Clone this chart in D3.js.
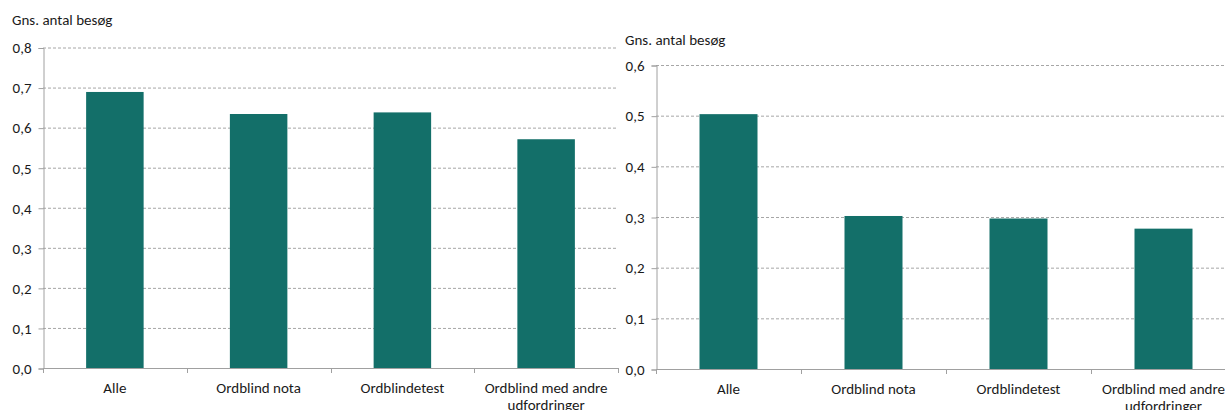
<!DOCTYPE html>
<html><head><meta charset="utf-8">
<script src="https://cdn.jsdelivr.net/npm/d3@7"></script>
<style>
body{margin:0;background:#fff;}
svg{display:block;}
text{font-family:Carlito,"Liberation Sans","Open Sans",sans-serif;fill:#1a1a1a;}
</style></head>
<body><svg id="c" width="1225" height="410"></svg>
<script>
const categories = ["Alle", "Ordblind nota", "Ordblindetest", "Ordblind med andre udfordringer"];
const categoryLines = [["Alle"], ["Ordblind nota"], ["Ordblindetest"], ["Ordblind med andre", "udfordringer"]];
const leftValues = [0.689, 0.634, 0.638, 0.571];
const rightValues = [0.503, 0.302, 0.297, 0.277];
const leftTicks = [0, 0.1, 0.2, 0.3, 0.4, 0.5, 0.6, 0.7, 0.8];
const rightTicks = [0, 0.1, 0.2, 0.3, 0.4, 0.5, 0.6];
const yTitle = "Gns. antal besøg";

const svg = d3.select("#c");
const fmt = d => d.toFixed(1).replace(".", ",");

function panel(values, ticks, x0, x1, yTop, yBottom, titlePos) {
  const g = svg.append("g");
  const x = d3.scaleBand().domain(categories).range([x0, x1]).paddingInner(0.6).paddingOuter(0.3);
  const y = d3.scaleLinear().domain([0, d3.max(ticks)]).range([yBottom, yTop]);

  g.selectAll(".grid").data(ticks.filter(t => t > 0)).join("line")
    .attr("x1", x0).attr("x2", x1)
    .attr("y1", d => y(d) + 0.5).attr("y2", d => y(d) + 0.5)
    .attr("stroke", "#a6a6a6").attr("stroke-width", 1).attr("stroke-dasharray", "3,2");

  g.selectAll(".bar").data(values).join("rect")
    .attr("x", (d, i) => x(categories[i]))
    .attr("width", x.bandwidth())
    .attr("y", d => y(d))
    .attr("height", d => y(0) - y(d))
    .attr("fill", "#136f69");

  const ya = d3.axisLeft(y).tickValues(ticks).tickFormat(fmt).tickSize(5).tickPadding(7);
  const yg = g.append("g").attr("transform", `translate(${x0 + 0.5},0.5)`).call(ya);
  yg.select(".domain").attr("stroke", "#a0a0a0");
  yg.selectAll(".tick line").attr("stroke", "#a0a0a0");
  yg.selectAll(".tick text").attr("font-size", 15).attr("fill", "#1a1a1a")
    .style("font-family", 'Carlito,"Liberation Sans",sans-serif');

  g.append("line").attr("x1", x0).attr("x2", x1)
    .attr("y1", y(0) + 0.5).attr("y2", y(0) + 0.5).attr("stroke", "#a0a0a0");
  const step = x.step();
  const bounds = d3.range(categories.length + 1).map(i => x0 + i * step);
  g.selectAll(".xt").data(bounds).join("line")
    .attr("x1", d => Math.round(d) + 0.5).attr("x2", d => Math.round(d) + 0.5)
    .attr("y1", y(0)).attr("y2", y(0) + 5).attr("stroke", "#a0a0a0");

  categoryLines.forEach((lines, i) => {
    const cx = x(categories[i]) + x.bandwidth() / 2;
    const t = g.append("text").attr("text-anchor", "middle").attr("font-size", 15)
      .attr("x", cx).attr("y", y(0) + 25);
    lines.forEach((ln, j) => {
      t.append("tspan").attr("x", cx).attr("dy", j === 0 ? 0 : 17).text(ln);
    });
  });

  g.append("text").attr("x", titlePos[0]).attr("y", titlePos[1]).attr("font-size", 15).text(yTitle);
}

panel(leftValues, leftTicks, 43, 618, 47.5, 368, [12, 25]);
panel(rightValues, rightTicks, 656, 1236, 65, 369, [625, 45]);
</script></body></html>
